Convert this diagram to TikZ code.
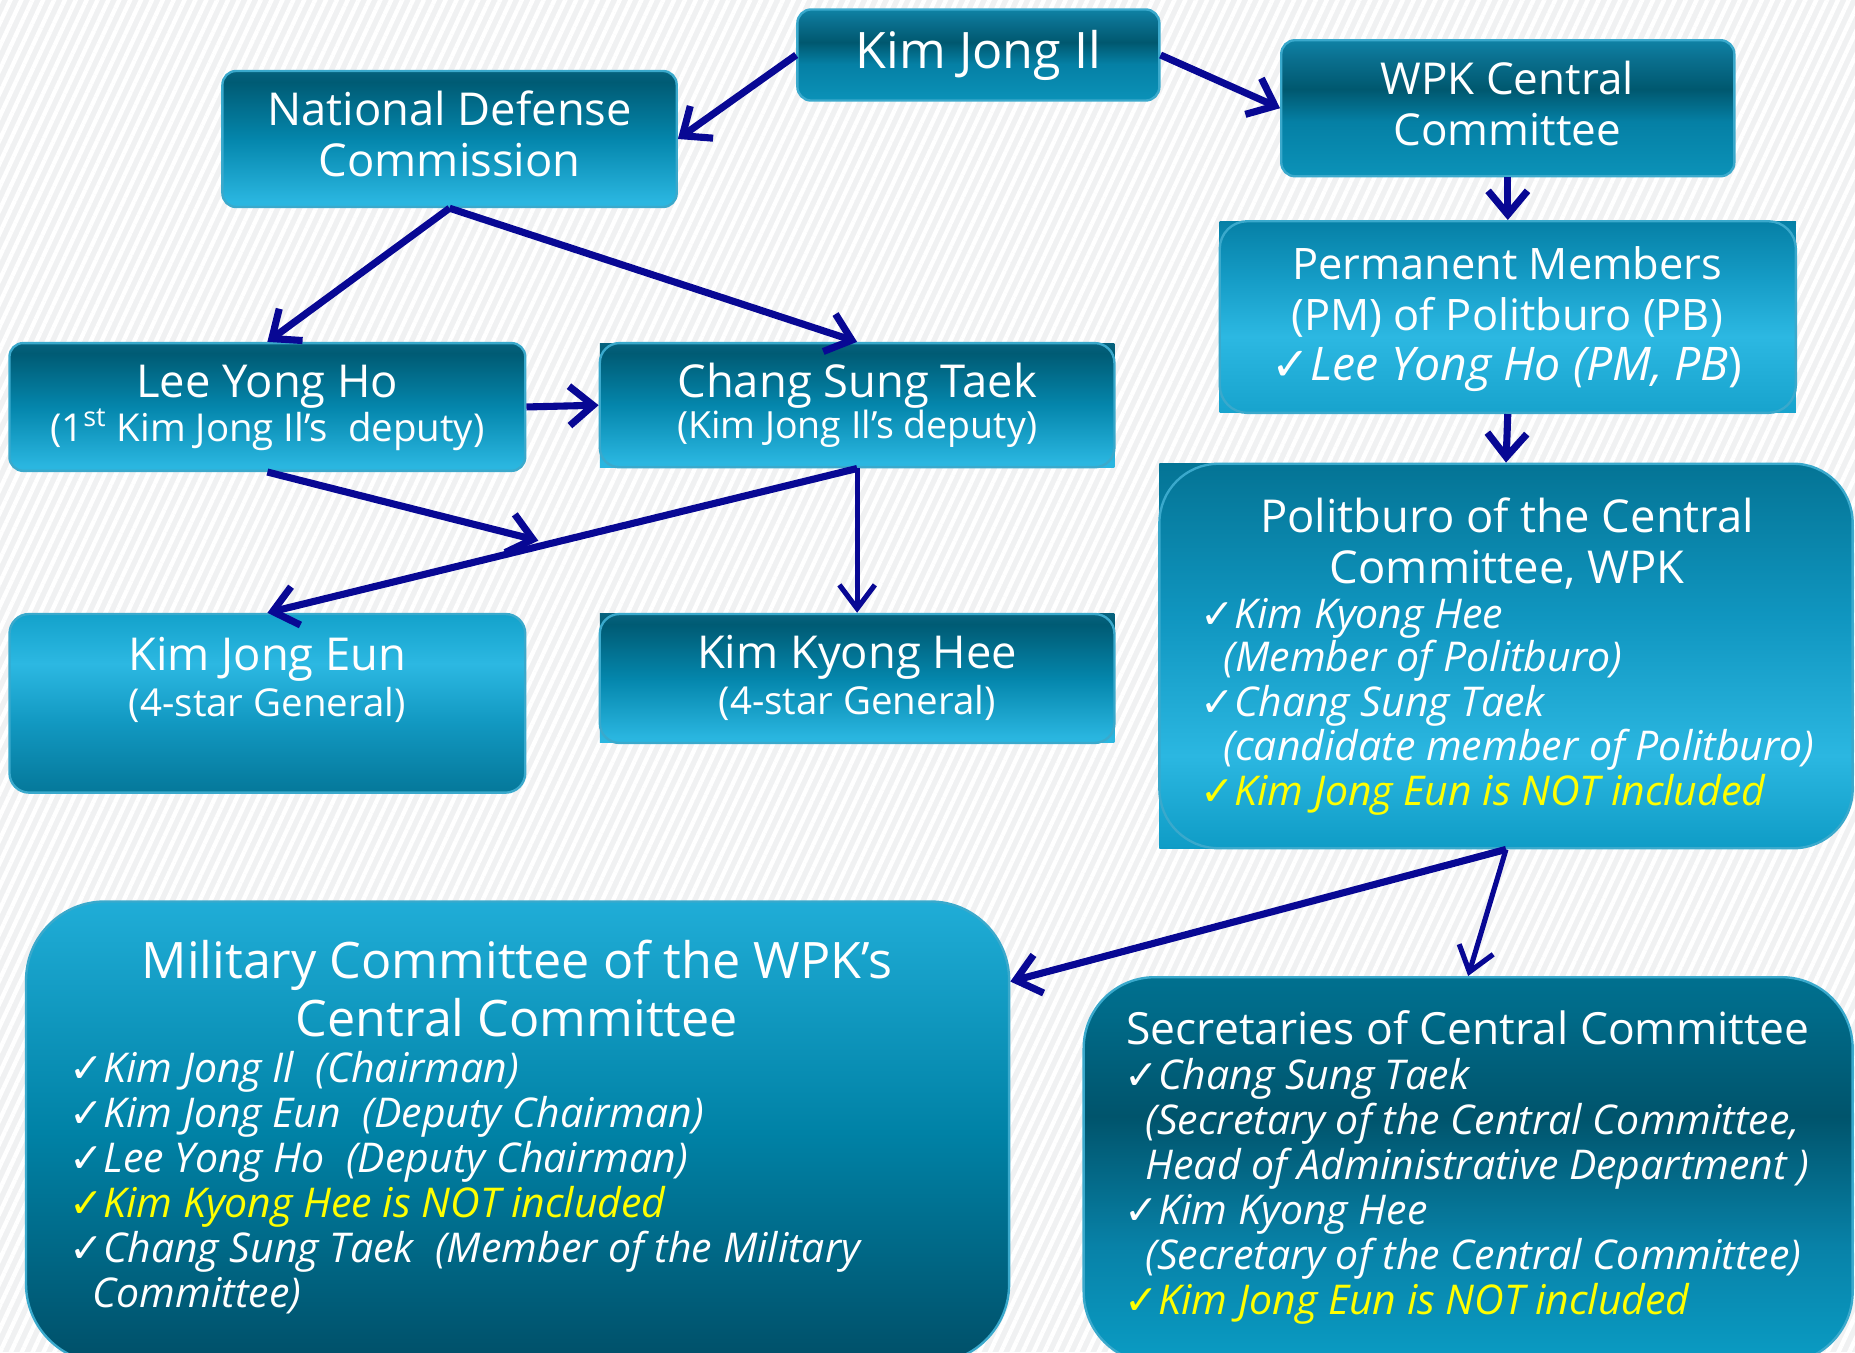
\documentclass[tikz,border=0pt]{standalone}
\usepackage{fontspec}
\setmainfont{Open Sans}
\newfontfamily\dv{DejaVu Sans}
\usetikzlibrary{arrows.meta,fit,patterns.meta}
\definecolor{arr}{HTML}{080894}
\definecolor{bd}{HTML}{3AA9CC}
\definecolor{yl}{HTML}{FFFF00}
\definecolor{bgc}{HTML}{F0F1F2}
% generic stops
\definecolor{aBot}{HTML}{2AB6E0}\definecolor{aMid}{HTML}{0486AC}\definecolor{aDk}{HTML}{005B74}\definecolor{aTop}{HTML}{06627E}
\definecolor{kBot}{HTML}{0B92B8}\definecolor{kLo}{HTML}{0580A5}\definecolor{kDk}{HTML}{00586F}\definecolor{kHi}{HTML}{0A6F8E}\definecolor{kTop}{HTML}{0F82A5}
\definecolor{pBot}{HTML}{17A3CD}\definecolor{pBr}{HTML}{2CB8E2}\definecolor{pMd}{HTML}{159CC6}\definecolor{pTop}{HTML}{0680A6}
\definecolor{qBot}{HTML}{0F9CC6}\definecolor{qBr}{HTML}{2BB7E1}\definecolor{qMd}{HTML}{1096C0}\definecolor{qTop}{HTML}{047495}
\definecolor{eBot}{HTML}{05789A}\definecolor{eMd}{HTML}{1299C2}\definecolor{eBr}{HTML}{2CB8E2}\definecolor{eTop}{HTML}{14A2CB}
\definecolor{mBot}{HTML}{004F68}\definecolor{mMd}{HTML}{0082A6}\definecolor{mTop}{HTML}{20ADD7}
\definecolor{sBot}{HTML}{0A9CC4}\definecolor{sLo}{HTML}{0882A8}\definecolor{sDk}{HTML}{00546C}\definecolor{sHi}{HTML}{006A88}\definecolor{sTop}{HTML}{00708F}
\pgfdeclareverticalshading{shA}{100bp}{color(0bp)=(aBot); color(27bp)=(aBot); color(50bp)=(aMid); color(71bp)=(aDk); color(75bp)=(aTop); color(100bp)=(aTop)}
\pgfdeclareverticalshading{shK}{100bp}{color(0bp)=(kBot); color(25bp)=(kBot); color(45bp)=(kLo); color(57bp)=(kDk); color(68bp)=(kHi); color(75bp)=(kTop); color(100bp)=(kTop)}
\pgfdeclareverticalshading{shP}{100bp}{color(0bp)=(pBot); color(25bp)=(pBot); color(45bp)=(pBr); color(60bp)=(pMd); color(75bp)=(pTop); color(100bp)=(pTop)}
\pgfdeclareverticalshading{shQ}{100bp}{color(0bp)=(qBot); color(25bp)=(qBot); color(37bp)=(qBr); color(55bp)=(qMd); color(75bp)=(qTop); color(100bp)=(qTop)}
\pgfdeclareverticalshading{shE}{100bp}{color(0bp)=(eBot); color(25bp)=(eBot); color(45bp)=(eMd); color(61bp)=(eBr); color(75bp)=(eTop); color(100bp)=(eTop)}
\pgfdeclareverticalshading{shM}{100bp}{color(0bp)=(mBot); color(25bp)=(mBot); color(50bp)=(mMd); color(75bp)=(mTop); color(100bp)=(mTop)}
\pgfdeclareverticalshading{shS}{100bp}{color(0bp)=(sBot); color(25bp)=(sBot); color(40bp)=(sLo); color(57bp)=(sDk); color(70bp)=(sHi); color(75bp)=(sTop); color(100bp)=(sTop)}
\newcommand\ck{{\dv\upshape ✓}}
\tikzset{
  box/.style={draw=bd, line width=1.2pt, rounded corners=7pt, inner sep=0pt},
  ttl/.style={text=white, font=\fontsize{23}{27}\selectfont, anchor=base, inner sep=0pt},
  sub/.style={text=white, font=\fontsize{19.5}{23}\selectfont, anchor=base, inner sep=0pt},
  itm/.style={text=white, font=\fontsize{20.8}{24}\selectfont\itshape, anchor=base west, inner sep=0pt},
  arw/.style={draw=arr, line width=3.6pt, -{Straight Barb[length=12pt,width=20pt]}},
  arwt/.style={draw=arr, line width=2.6pt, -{Straight Barb[length=12pt,width=18pt]}},
}
\begin{document}
\begin{tikzpicture}[x=0.6pt,y=-0.6pt]
\useasboundingbox (0,0) rectangle (1568,1143);
\clip (0,0) rectangle (1568,1143);
\fill[bgc] (0,0) rectangle (1568,1143);
\fill[pattern={Lines[angle=65,distance=5pt,line width=2.2pt]}, pattern color=white] (0,0) rectangle (1568,1143);

% sharp underlays
\shade[shading=shA] (507,290) rectangle (942,395);
\shade[shading=shA] (507,519) rectangle (942,628);
\shade[shading=shP] (1031,187) rectangle (1518,349);
\shade[shading=shQ] (980,392) rectangle (1300,717);

% boxes
\node[box, shading=shK, fit={(674,8)(980,85)}] (kji) {};
\node[box, shading=shA, fit={(188,60)(572,175)}] (ndc) {};
\node[box, shading=shK, fit={(1083,34)(1466,149)}] (wpk) {};
\node[box, shading=shP, rounded corners=14pt, fit={(1031,187)(1518,349)}] (pm) {};
\node[box, shading=shQ, rounded corners=30pt, fit={(980,392)(1566,717)}] (pol) {};
\node[box, shading=shA, fit={(8,290)(444,398)}] (lyh) {};
\node[box, shading=shA, rounded corners=10pt, fit={(507,290)(942,395)}] (cst) {};
\node[box, shading=shE, rounded corners=10pt, fit={(8,519)(444,670)}] (kje) {};
\node[box, shading=shA, rounded corners=10pt, fit={(507,519)(942,628)}] (kkh) {};
\node[box, shading=shM, rounded corners=40pt, fit={(22,762)(853,1152)}] (mil) {};
\node[box, shading=shS, rounded corners=36pt, fit={(916,826)(1566,1152)}] (sec) {};

% texts
\node[ttl, font=\fontsize{25.5}{30}\selectfont] (t1) at (827,58) {Kim Jong Il};
\node[ttl] (t2) at (380,106) {National Defense};
\node[ttl] (t3) at (380,149) {Commission};
\node[ttl, font=\fontsize{22.3}{27}\selectfont] (t4) at (1274,80) {WPK Central};
\node[ttl, font=\fontsize{22.3}{27}\selectfont] (t5) at (1274,123) {Committee};
\node[ttl, font=\fontsize{22}{27}\selectfont] (t6) at (1274,236) {Permanent Members};
\node[ttl, font=\fontsize{22}{27}\selectfont] (t7) at (1274,279) {(PM) of Politburo (PB)};
\node[ttl, font=\fontsize{23.5}{27}\selectfont] (t8) at (1274,322) {\ck{\itshape Lee Yong Ho (PM, PB}{)}};
\node[ttl] (t9) at (1274,450) {Politburo of the Central};
\node[ttl] (t10) at (1274,493) {Committee, WPK};
\node[itm] (p1) at (1014,531) {\ck Kim Kyong Hee};
\node[itm] (p2) at (1034,568) {(Member of Politburo)};
\node[itm] (p3) at (1014,606) {\ck Chang Sung Taek};
\node[itm] (p4) at (1034,643) {(candidate member of Politburo)};
\node[itm, text=yl] (p5) at (1014,681) {\ck Kim Jong Eun is NOT included};
\node[ttl] (t11) at (226,336) {Lee Yong Ho};
\node[sub] (t12) at (226,373) {(1\textsuperscript{st} Kim Jong Il’s\ \ deputy)};
\node[ttl] (t13) at (724.5,336) {Chang Sung Taek};
\node[sub, font=\fontsize{19}{23}\selectfont] (t14) at (724.5,371) {(Kim Jong Il’s deputy)};
\node[ttl] (t15) at (226,567) {Kim Jong Eun};
\node[sub] (t16) at (226,606) {(4-star General)};
\node[ttl] (t17) at (724.5,565) {Kim Kyong Hee};
\node[sub] (t18) at (724.5,604) {(4-star General)};
\node[ttl, font=\fontsize{25.5}{30}\selectfont] (t19) at (437,827) {Military Committee of the WPK’s};
\node[ttl, font=\fontsize{25.5}{30}\selectfont] (t20) at (437,876) {Central Committee};
\node[itm] (m1) at (58,915) {\ck Kim Jong Il\ \ (Chairman)};
\node[itm] (m2) at (58,953) {\ck Kim Jong Eun\ \ (Deputy Chairman)};
\node[itm] (m3) at (58,991) {\ck Lee Yong Ho\ \ (Deputy Chairman)};
\node[itm, text=yl] (m4) at (58,1029) {\ck Kim Kyong Hee is NOT included};
\node[itm] (m5) at (58,1067) {\ck Chang Sung Taek\ \ (Member of the Military};
\node[itm] (m6) at (78,1105) {Committee)};
\node[ttl, font=\fontsize{22.5}{27}\selectfont] (t21) at (1241,883) {Secretaries of Central Committee};
\node[itm] (s1) at (950,921) {\ck Chang Sung Taek};
\node[itm] (s2) at (968,959) {(Secretary of the Central Committee,};
\node[itm] (s3) at (968,997) {Head of Administrative Department )};
\node[itm] (s4) at (950,1035) {\ck Kim Kyong Hee};
\node[itm] (s5) at (968,1073) {(Secretary of the Central Committee)};
\node[itm, text=yl] (s6) at (950,1111) {\ck Kim Jong Eun is NOT included};

% connectors
\coordinate (lyhEnd) at (455,457);
\draw[arw] (kji.west) -- (ndc.east);
\draw[arw] (kji.east) -- (wpk.west);
\draw[arw] (wpk.south) -- (pm.north);
\draw[arw] (pm.south) -- (pol.north);
\draw[arw] (ndc.south) -- (lyh.north);
\draw[arw] (ndc.south) -- (cst.north);
\draw[arw] (lyh.east) -- (cst.west);
\draw[arw] (lyh.south) -- (lyhEnd);
\draw[arw] (cst.south) -- (kje.north);
\draw[arwt] (cst.south) -- (kkh.north);
\draw[arw] (pol.south) -- (mil.17.3);
\draw[arwt] (pol.south) -- (sec.north);
\end{tikzpicture}
\end{document}
